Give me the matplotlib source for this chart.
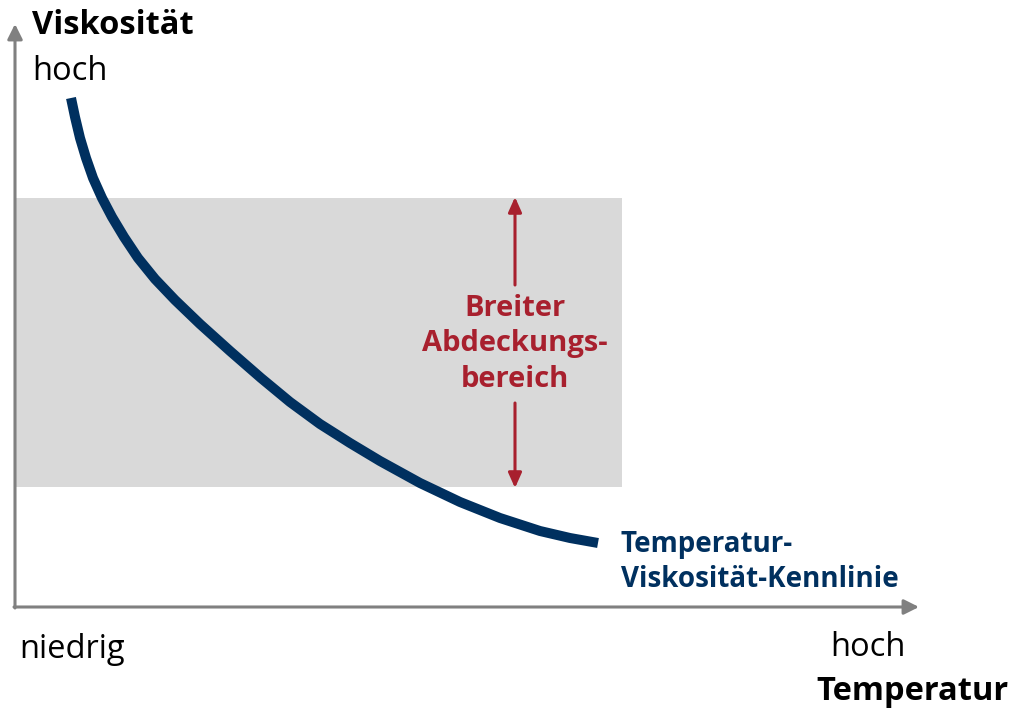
import matplotlib.pyplot as plt

# Kennlinie, Punkte (Pixel, y nach unten)
curve_x = [71, 75, 80, 86, 93, 102, 112, 124, 138, 155, 175, 200,
           230, 261, 290, 320, 350, 380, 420, 460, 500, 540, 570, 598]
curve_y = [98, 117, 138, 158, 178, 198, 217, 237, 258, 279, 300, 324,
           351, 378, 402, 424, 443, 461, 483, 502, 518, 531, 538, 543]

# Abdeckungsbereich
band_x = [16, 622]
band_y = [198, 487]

navy = "#00305F"
red = "#A8202E"
axgray = "#808080"
font = "Open Sans"

fig = plt.figure(figsize=(10.15, 7.09), dpi=100)
ax = fig.add_axes([0, 0, 1, 1])
ax.set_xlim(0, 1015)
ax.set_ylim(709, 0)
ax.axis("off")

# grauer Bereich
ax.fill_between(band_x, band_y[0], band_y[1], color="#D9D9D9", lw=0, zorder=1)

# Achsen
ax.annotate("", xy=(15, 24), xytext=(15, 608),
            arrowprops=dict(arrowstyle="-|>,head_length=0.9,head_width=0.45",
                            color=axgray, lw=2.2, shrinkA=0, shrinkB=0), zorder=2)
ax.annotate("", xy=(919, 607), xytext=(14, 607),
            arrowprops=dict(arrowstyle="-|>,head_length=0.9,head_width=0.45",
                            color=axgray, lw=2.2, shrinkA=0, shrinkB=0), zorder=2)

# Kennlinie
ax.plot(curve_x, curve_y, color=navy, lw=7.2, solid_capstyle="butt",
        solid_joinstyle="round", zorder=3)

# rote Pfeile
ax.annotate("", xy=(515, 197), xytext=(515, 285),
            arrowprops=dict(arrowstyle="-|>,head_length=0.9,head_width=0.4",
                            color=red, lw=2.2, shrinkA=0, shrinkB=0), zorder=3)
ax.annotate("", xy=(515, 488), xytext=(515, 403),
            arrowprops=dict(arrowstyle="-|>,head_length=0.9,head_width=0.4",
                            color=red, lw=2.2, shrinkA=0, shrinkB=0), zorder=3)

ax.text(515, 344, "Breiter\nAbdeckungs-\nbereich", color=red, fontsize=21,
        fontweight="bold", family=font, ha="center", va="center",
        linespacing=1.28, zorder=4)

ax.text(621, 562, "Temperatur-\nViskosität-Kennlinie", color=navy, fontsize=20,
        fontweight="bold", family=font, ha="left", va="center",
        linespacing=1.3, zorder=4)

# Achsenbeschriftungen
ax.text(32, 25, "Viskosität", fontsize=23.5, fontweight="bold", family=font,
        ha="left", va="center", color="black")
ax.text(32, 72, "hoch", fontsize=23.5, family=font, ha="left", va="center", color="black")
ax.text(19, 650, "niedrig", fontsize=23.5, family=font, ha="left", va="center", color="black")
ax.text(906, 647, "hoch", fontsize=23.5, family=font, ha="right", va="center", color="black")
ax.text(1009, 691, "Temperatur", fontsize=23.5, fontweight="bold", family=font,
        ha="right", va="center", color="black")

fig.savefig("out.png", dpi=100)
